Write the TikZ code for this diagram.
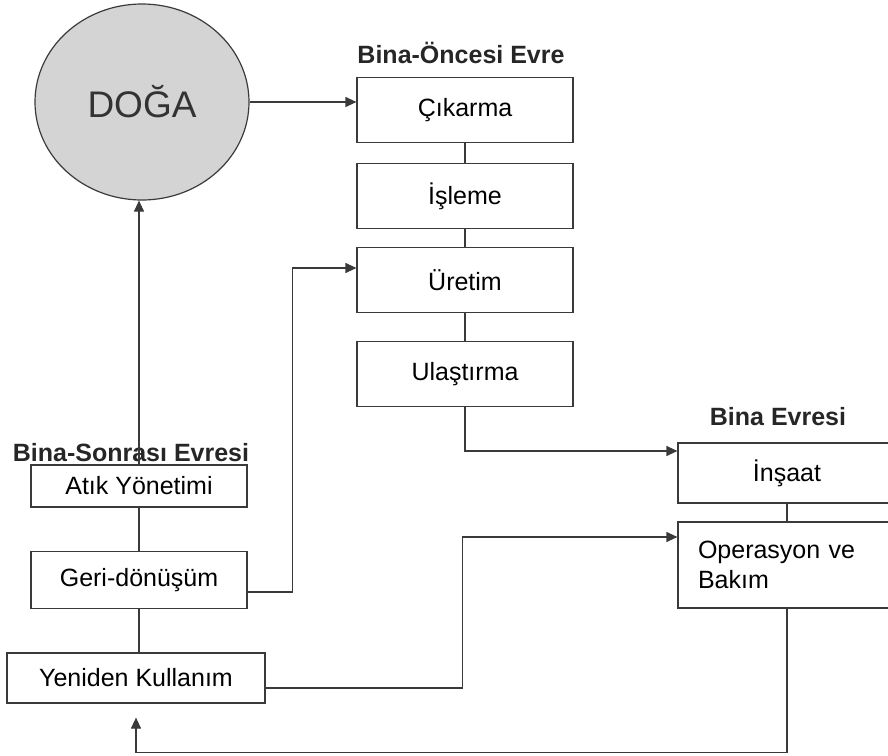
\documentclass[tikz,border=0pt]{standalone}
\usepackage{fontspec}
\setmainfont{Liberation Sans}
\usetikzlibrary{arrows.meta,shapes.geometric}

\definecolor{linegray}{HTML}{3A3A3A}
\definecolor{dogafill}{HTML}{D4D4D4}

\tikzset{
	evrebox/.style={draw=linegray, line width=1.2pt, fill=white, minimum width=216pt, inner sep=0pt, font=\fontsize{25}{30}\selectfont},
	evrelabel/.style={font=\bfseries\fontsize{25}{30}\selectfont, text=black!85},
}

\begin{document}
\begin{tikzpicture}[x=1pt, y=-1pt, every node/.style={black}, >={Triangle[length=11pt,width=10pt]}, line width=1.2pt]
	\useasboundingbox (0,0) rectangle (888,755);
	\clip (0,0) rectangle (888,755);

	\node[ellipse, draw=linegray, fill=dogafill, minimum width=214pt, minimum height=196pt, inner sep=0pt, font=\fontsize{37}{44}\selectfont, text=black!80] (doga) at (142,102) {DOĞA};

	\node[evrelabel] (oncesi) at (461,53) {Bina-Öncesi Evre};
	\node[evrebox, minimum height=65pt] (cikarma) at (465,110) {Çıkarma};
	\node[evrebox, minimum height=65pt] (isleme) at (465,196) {İşleme};
	\node[evrebox, minimum height=65pt] (uretim) at (465,280) {Üretim};
	\node[evrebox, minimum height=65pt] (ulastirma) at (465,374) {Ulaştırma};

	\node[evrelabel] (binaevre) at (778,417) {Bina Evresi};
	\node[evrebox, minimum width=218pt, minimum height=60pt] (insaat) at (787,473) {İnşaat};
	\node[evrebox, minimum height=86pt, text width=178pt, inner xsep=20pt, align=left] (operasyon) at (787,565) {Operasyon ve\\Bakım};

	\node[evrelabel] (sonrasi) at (131,453) {Bina-Sonrası Evresi};
	\node[evrebox, minimum height=42pt] (atik) at (139,486) {Atık Yönetimi};
	\node[evrebox, minimum height=57pt] (geri) at (139,580) {Geri-dönüşüm};
	\node[evrebox, minimum width=258pt, minimum height=50pt] (yeniden) at (136,678) {Yeniden Kullanım};

	\draw[->, linegray] (doga.east) -- (doga.east -| cikarma.west);
	\draw[linegray] (cikarma) -- (isleme);
	\draw[linegray] (isleme) -- (uretim);
	\draw[linegray] (uretim) -- (ulastirma);
	\draw[->, linegray] (ulastirma.south) |- ([yshift=22pt]insaat.west);
	\draw[linegray] (insaat) -- (operasyon);

	\draw[->, linegray] ([yshift=-10pt]yeniden.east) -- ++(197,0) |- ([yshift=28pt]operasyon.west);
	\draw[->, linegray, shorten >=14pt] (operasyon.south) -- ++(0,144) -| (yeniden.south);
	\draw[->, linegray] ([yshift=-12pt]geri.east) -- ++(45,0) |- ([yshift=12pt]uretim.west);

	\draw[linegray] (atik) -- (geri);
	\draw[linegray] (geri.south) -- (geri.south |- yeniden.north);
	\draw[->, linegray] (atik.north) -- (atik.north |- doga.south);
\end{tikzpicture}
\end{document}
